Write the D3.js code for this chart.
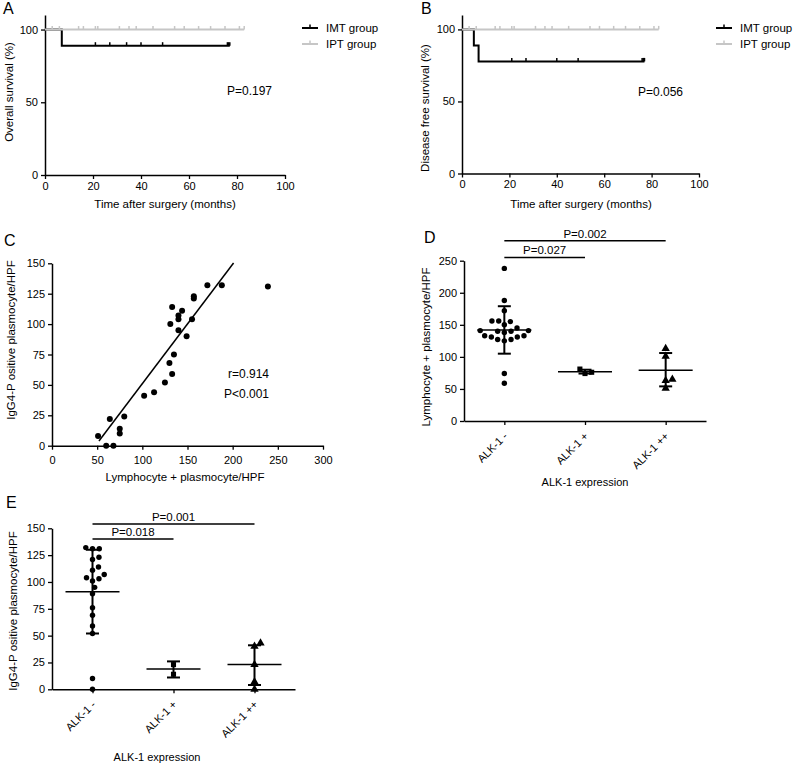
<!DOCTYPE html>
<html>
<head>
<meta charset="utf-8">
<script src="https://cdn.jsdelivr.net/npm/d3@7"></script>
<style>
  body { margin: 0; background: #fff; }
  svg { display: block; font-family: "Liberation Sans", Arial, Helvetica, sans-serif; }
</style>
</head>
<body>
<svg id="chart" width="793" height="764"></svg>
<script>
// ---------- data ----------

// Kaplan-Meier curves: [months, survival %] step points, censor marks in months
const kmXTicks = [0, 20, 40, 60, 80, 100];
const kmYTicks = [0, 50, 100];
const imtOsSteps = [[0, 100], [7, 88.9], [77, 88.9]];
const imtOsCensor = [21, 27, 34, 40, 49, 76, 76.5, 77];
const imtDfsSteps = [[0, 100], [5, 88.9], [7, 77.8], [77, 77.8]];
const imtDfsCensor = [21, 27, 40, 49, 76, 76.5, 77];
const iptSteps = [[0, 100], [83, 100]];
const iptCensor = [3, 6, 14, 16, 21, 22, 31, 35, 38, 45, 54, 58, 64, 69, 75, 81, 83];
const groupNames = ["IMT group", "IPT group"];

// Panel C: correlation
const lymphCount = [51, 60, 68, 64, 80, 75, 75, 102, 113, 125, 133, 130, 135, 131, 133,
                    140, 140, 140, 144, 149, 155, 157, 157, 172, 188, 239];
const igg4Count  = [8, 0, 0, 22, 24, 14, 10, 41, 44, 52, 59, 68, 75, 100, 114,
                    104, 107, 95, 111, 90, 104, 123, 121, 132, 132, 131];
const fitSlope = 0.983, fitIntercept = -47.3, fitXFrom = 52, fitXTo = 201;
const cXTicks = [0, 50, 100, 150, 200, 250, 300];
const cYTicks = [0, 25, 50, 75, 100, 125, 150];

// Panels D and E: ALK-1 expression groups
const alkCategories = ["ALK-1 -", "ALK-1 +", "ALK-1 ++"];
const dValues = [
  [238, 188, 172, 156, 155, 156, 150, 145, 141, 140, 138, 133, 131, 127, 125, 127, 131, 133, 140, 141, 74, 59],
  [74, 76, 81],
  [113, 101, 65, 63, 51]
];
const dMean = [142, 77, 79];
const dLower = [105, 74, 54];
const dUpper = [179, 80, 106];
const dYTicks = [0, 50, 100, 150, 200, 250];

const eValues = [
  [132, 131, 131, 123, 121, 111, 107, 114, 103, 101, 104, 95, 89, 76, 69, 59, 52, 10, 0],
  [23, 14],
  [43, 40, 23, 7, 0]
];
const eMean = [91, 19, 23];
const eLower = [52, 11, 4];
const eUpper = [130, 26, 41];
const eYTicks = [0, 25, 50, 75, 100, 125, 150];

const dBrackets = [{ from: 0, to: 1, text: "P=0.027" }, { from: 0, to: 2, text: "P=0.002" }];
const eBrackets = [{ from: 0, to: 1, text: "P=0.018" }, { from: 0, to: 2, text: "P=0.001" }];

// ---------- drawing ----------
const svg = d3.select("#chart");
const TICK_FONT = 11, TITLE_FONT = 11.5;

function styleAxis(g) {
  g.select(".domain").attr("stroke", "#000").attr("stroke-width", 1.5);
  g.selectAll(".tick line").attr("stroke", "#000").attr("stroke-width", 1.3);
  g.selectAll(".tick text").attr("fill", "#000").style("font-size", TICK_FONT + "px");
}

function addText(x, y, txt, size, anchor = "start", rotate = 0) {
  return svg.append("text")
    .attr("transform", `translate(${x},${y})` + (rotate ? ` rotate(${rotate})` : ""))
    .attr("text-anchor", anchor)
    .style("font-size", size + "px")
    .attr("fill", "#000")
    .text(txt);
}

function survivalAt(steps, t) {
  let s = steps[0][1];
  steps.forEach(d => { if (d[0] <= t) s = d[1]; });
  return s;
}

function drawKM(p) {
  const x = d3.scaleLinear().domain([0, 100]).range(p.xRange);
  const y = d3.scaleLinear().domain([0, 110]).range(p.yRange);
  const g = svg.append("g");

  g.append("g").attr("transform", `translate(0,${p.yRange[0]})`)
    .call(d3.axisBottom(x).tickValues(kmXTicks).tickSize(4).tickSizeOuter(0))
    .call(styleAxis);
  g.append("g").attr("transform", `translate(${p.xRange[0]},0)`)
    .call(d3.axisLeft(y).tickValues(kmYTicks).tickSize(4).tickSizeOuter(0))
    .call(styleAxis);

  const line = d3.line().x(d => x(d[0])).y(d => y(d[1])).curve(d3.curveStepAfter);
  p.series.forEach(s => {
    g.append("path").attr("d", line(s.steps))
      .attr("fill", "none").attr("stroke", s.color).attr("stroke-width", 2);
    s.censor.forEach(t => {
      const v = y(survivalAt(s.steps, t));
      g.append("line").attr("x1", x(t)).attr("x2", x(t)).attr("y1", v).attr("y2", v - 3.5)
        .attr("stroke", s.color).attr("stroke-width", 1.5);
    });
  });

  // legend
  p.series.forEach((s, i) => {
    const ly = p.legend[1] + i * 16;
    g.append("line").attr("x1", p.legend[0]).attr("x2", p.legend[0] + 16)
      .attr("y1", ly).attr("y2", ly).attr("stroke", s.color).attr("stroke-width", 2);
    g.append("line").attr("x1", p.legend[0] + 8).attr("x2", p.legend[0] + 8)
      .attr("y1", ly).attr("y2", ly - 3.5).attr("stroke", s.color).attr("stroke-width", 1.5);
    addText(p.legend[0] + 24, ly + 4, groupNames[i], 11.5);
  });

  addText(p.pText[0], p.pText[1], p.pLabel, 12);
  addText(p.yTitle[0], p.yTitle[1], p.yLabel, TITLE_FONT, "middle", -90);
  addText(p.xTitle[0], p.xTitle[1], "Time after surgery (months)", TITLE_FONT, "middle");
}

drawKM({
  xRange: [45, 285], yRange: [175, 15],
  series: [
    { steps: imtOsSteps, censor: imtOsCensor, color: "#000" },
    { steps: iptSteps, censor: iptCensor, color: "#c6c6c6" }
  ],
  legend: [302, 28],
  pText: [227, 95], pLabel: "P=0.197",
  yTitle: [13, 92], yLabel: "Overall survival (%)",
  xTitle: [165, 208]
});

drawKM({
  xRange: [462, 699], yRange: [173.5, 15],
  series: [
    { steps: imtDfsSteps, censor: imtDfsCensor, color: "#000" },
    { steps: iptSteps, censor: iptCensor, color: "#c6c6c6" }
  ],
  legend: [716, 28],
  pText: [638, 96], pLabel: "P=0.056",
  yTitle: [429, 108], yLabel: "Disease free survival (%)",
  xTitle: [581, 208]
});

// ---- Panel C ----
(function () {
  const x = d3.scaleLinear().domain([0, 300]).range([52, 323]);
  const y = d3.scaleLinear().domain([0, 150]).range([445.7, 263.3]);
  svg.append("g").attr("transform", "translate(0,445.7)")
    .call(d3.axisBottom(x).tickValues(cXTicks).tickSize(4).tickPadding(7).tickSizeOuter(0))
    .call(styleAxis);
  svg.append("g").attr("transform", "translate(52,0)")
    .call(d3.axisLeft(y).tickValues(cYTicks).tickSize(4).tickSizeOuter(0)).call(styleAxis);

  svg.append("line")
    .attr("x1", x(fitXFrom)).attr("y1", y(fitIntercept + fitSlope * fitXFrom))
    .attr("x2", x(fitXTo)).attr("y2", y(fitIntercept + fitSlope * fitXTo))
    .attr("stroke", "#000").attr("stroke-width", 1.5);

  svg.append("g").selectAll("circle").data(lymphCount).join("circle")
    .attr("cx", d => x(d)).attr("cy", (d, i) => y(igg4Count[i])).attr("r", 3)
    .attr("fill", "#000");

  addText(269, 378, "r=0.914", 12, "end");
  addText(269, 397.5, "P<0.001", 12, "end");
  addText(15, 340, "IgG4-P ositive plasmocyte/HPF", TITLE_FONT, "middle", -90);
  addText(185, 481, "Lymphocyte + plasmocyte/HPF", TITLE_FONT, "middle");
})();

// ---- Panels D and E: scatter dot plots ----
function swarm(values, y, r) {
  const placed = [];
  const out = new Array(values.length);
  values.map((v, i) => ({ v, i })).sort((a, b) => a.v - b.v).forEach(o => {
    const py = y(o.v);
    const cands = [0];
    placed.forEach(p => {
      const dy = Math.abs(p.y - py);
      if (dy < 2 * r) {
        const dx = Math.sqrt(4 * r * r - dy * dy);
        cands.push(p.x + dx, p.x - dx);
      }
    });
    cands.sort((a, b) => Math.abs(a) - Math.abs(b));
    let best = 0;
    for (const c of cands) {
      if (placed.every(p => (p.x - c) ** 2 + (p.y - py) ** 2 >= 4 * r * r - 0.01)) { best = c; break; }
    }
    placed.push({ x: best, y: py });
    out[o.i] = best;
  });
  return out;
}

function drawDotPlot(p) {
  const x = d3.scalePoint().domain(alkCategories).range(p.xRange).padding(0.5);
  const y = d3.scaleLinear().domain(p.yDomain).range(p.yRange);
  const base = p.yRange[0];

  const xa = svg.append("g").attr("transform", `translate(0,${base})`)
    .call(d3.axisBottom(x).tickSize(4).tickSizeOuter(0)).call(styleAxis);
  xa.selectAll(".tick text").remove();
  svg.append("g").attr("transform", `translate(${p.xRange[0]},0)`)
    .call(d3.axisLeft(y).tickValues(p.yTicks).tickSize(4).tickSizeOuter(0)).call(styleAxis);

  alkCategories.forEach((c, i) => {
    const cx = x(c);
    addText(cx + 4, base + 16, c, TICK_FONT, "end", -45);

    // mean and SD bars
    svg.append("line").attr("x1", cx - 27).attr("x2", cx + 27)
      .attr("y1", y(p.mean[i])).attr("y2", y(p.mean[i]))
      .attr("stroke", "#000").attr("stroke-width", 1.5);
    svg.append("line").attr("x1", cx).attr("x2", cx)
      .attr("y1", y(p.lower[i])).attr("y2", y(p.upper[i]))
      .attr("stroke", "#000").attr("stroke-width", 2);
    [p.lower[i], p.upper[i]].forEach(v => {
      svg.append("line").attr("x1", cx - 6.5).attr("x2", cx + 6.5)
        .attr("y1", y(v)).attr("y2", y(v)).attr("stroke", "#000").attr("stroke-width", 2);
    });

    const offs = swarm(p.values[i], y, 3.4);
    const sym = d3.symbol().type([d3.symbolCircle, d3.symbolSquare, d3.symbolTriangle][i])
      .size([23, 26, 30][i]);
    svg.append("g").selectAll("path").data(p.values[i]).join("path")
      .attr("transform", (d, j) => `translate(${cx + offs[j]},${y(d)})`)
      .attr("d", sym).attr("fill", "#000");
  });

  p.brackets.forEach((b, k) => {
    const by = y(p.bracketLevels[k]);
    const x1 = x(alkCategories[b.from]), x2 = x(alkCategories[b.to]);
    svg.append("line").attr("x1", x1).attr("x2", x2).attr("y1", by).attr("y2", by)
      .attr("stroke", "#000").attr("stroke-width", 1.5);
    addText((x1 + x2) / 2, by - 3, b.text, 11.5, "middle");
  });

  addText(p.yTitle[0], p.yTitle[1], p.yLabel, TITLE_FONT, "middle", -90);
  addText(p.xTitle[0], p.xTitle[1], "ALK-1 expression", TICK_FONT, "middle");
}

drawDotPlot({
  xRange: [464, 706], yDomain: [0, 250], yRange: [421, 260.7], yTicks: dYTicks,
  values: dValues, mean: dMean, lower: dLower, upper: dUpper,
  brackets: dBrackets, bracketLevels: [255, 281],
  yLabel: "Lymphocyte + plasmocyte/HPF", yTitle: [430, 347],
  xTitle: [585, 486]
});

drawDotPlot({
  xRange: [52, 295], yDomain: [0, 150], yRange: [689.3, 528.3], yTicks: eYTicks,
  values: eValues, mean: eMean, lower: eLower, upper: eUpper,
  brackets: eBrackets, bracketLevels: [140, 154],
  yLabel: "IgG4-P ositive plasmocyte/HPF", yTitle: [17, 611],
  xTitle: [157, 761]
});

// panel letters
[["A", 3, 13.5], ["B", 421, 13.5], ["C", 4, 246], ["D", 424, 243], ["E", 6, 508]]
  .forEach(d => addText(d[1], d[2], d[0], 16));
</script>
</body>
</html>
